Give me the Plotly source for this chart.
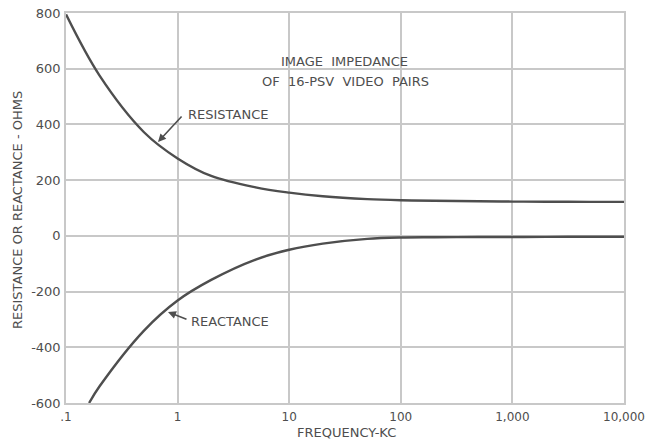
import math
import plotly.graph_objects as go

# Image impedance of 16-PSV video pairs vs frequency (kc)
freq_res = [0.1, 0.2, 0.5, 1, 2, 5, 10, 20, 50, 100, 200, 500, 1000, 2000, 5000, 10000]
resistance = [795, 575, 372, 278, 215, 174, 155, 142, 132, 128, 126, 124, 123, 122.5, 122, 122]

freq_rea = [0.161, 0.2, 0.5, 1, 2, 5, 10, 20, 50, 100, 200, 500, 1000, 2000, 5000, 10000]
reactance = [-600, -540, -340, -232, -158, -85, -50, -28, -11, -6, -5, -4, -4, -3.5, -3, -3]

tick_vals = [0.1, 1, 10, 100, 1000, 10000]
tick_text = [".1", "1", "10", "100", "1,000", "10,000"]
y_ticks = [-600, -400, -200, 0, 200, 400, 600, 800]
y_text = ["-600", "-400", "-200", "0", "200", "400", "600", "800"]

ink = "#4e4e4e"
grid = "#c8c8c8"
font_family = "DejaVu Sans"

# plot-area geometry in pixels
L, R, T, B = 66, 624, 13, 403
W, H = R - L, B - T


def px(x):
    return (x - L) / W


def py(y):
    return (B - y) / H


fig = go.Figure()
fig.add_trace(go.Scatter(x=freq_res, y=resistance, mode="lines",
                         line=dict(color=ink, width=2.4, shape="spline", smoothing=1.0),
                         name="RESISTANCE", showlegend=False))
fig.add_trace(go.Scatter(x=freq_rea, y=reactance, mode="lines",
                         line=dict(color=ink, width=2.4, shape="spline", smoothing=1.0),
                         name="REACTANCE", showlegend=False))

fig.update_xaxes(type="log", range=[-1, 4], tickvals=tick_vals, ticktext=tick_text,
                 showgrid=True, gridcolor=grid, gridwidth=1.5,
                 showline=True, linecolor=grid, linewidth=1.5, mirror=True,
                 zeroline=False, ticks="", ticklabelstandoff=2,
                 ticklabeloverflow="allow",
                 tickfont=dict(family=font_family, size=12, color=ink))
fig.update_yaxes(range=[-600, 800], tickvals=y_ticks, ticktext=y_text,
                 showgrid=True, gridcolor=grid, gridwidth=1.5,
                 showline=True, linecolor=grid, linewidth=1.5, mirror=True,
                 zeroline=False, ticks="", ticklabelstandoff=1,
                 tickfont=dict(family=font_family, size=13, color=ink))

label_font = dict(family=font_family, size=13, color=ink)
annotations = [
    # chart title block
    dict(xref="paper", yref="paper", x=px(344), y=py(61), xanchor="center", yanchor="middle",
         text="IMAGE  IMPEDANCE", showarrow=False, font=label_font),
    dict(xref="paper", yref="paper", x=px(345), y=py(81), xanchor="center", yanchor="middle",
         text="OF  16-PSV  VIDEO  PAIRS", showarrow=False, font=label_font),
    # leader arrows to the curves
    dict(x=math.log10(0.667), xref="x", y=337, yref="y", ax=25, ay=-27,
         axref="pixel", ayref="pixel", text="", showarrow=True,
         arrowhead=2, arrowsize=1, arrowwidth=1.6, arrowcolor=ink),
    dict(x=math.log10(0.82), xref="x", y=-273, yref="y", ax=20, ay=8,
         axref="pixel", ayref="pixel", text="", showarrow=True,
         arrowhead=2, arrowsize=1, arrowwidth=1.6, arrowcolor=ink),
    dict(xref="paper", yref="paper", x=px(186), y=py(115), xanchor="left", yanchor="middle",
         text="RESISTANCE", showarrow=False, font=label_font),
    dict(xref="paper", yref="paper", x=px(189), y=py(321), xanchor="left", yanchor="middle",
         text="REACTANCE", showarrow=False, font=label_font),
    # axis titles
    dict(xref="paper", yref="paper", x=px(346), y=py(432), xanchor="center", yanchor="middle",
         text="FREQUENCY-KC", showarrow=False, font=label_font),
    dict(xref="paper", yref="paper", x=px(17), y=py(210), xanchor="center", yanchor="middle",
         text="RESISTANCE OR REACTANCE - OHMS", showarrow=False, textangle=-90,
         font=label_font),
]
fig.update_layout(
    width=645, height=442,
    margin=dict(l=L, r=645 - R, t=T, b=442 - B, autoexpand=False),
    paper_bgcolor="white", plot_bgcolor="white",
    annotations=annotations,
)

fig.write_html("out.html")
